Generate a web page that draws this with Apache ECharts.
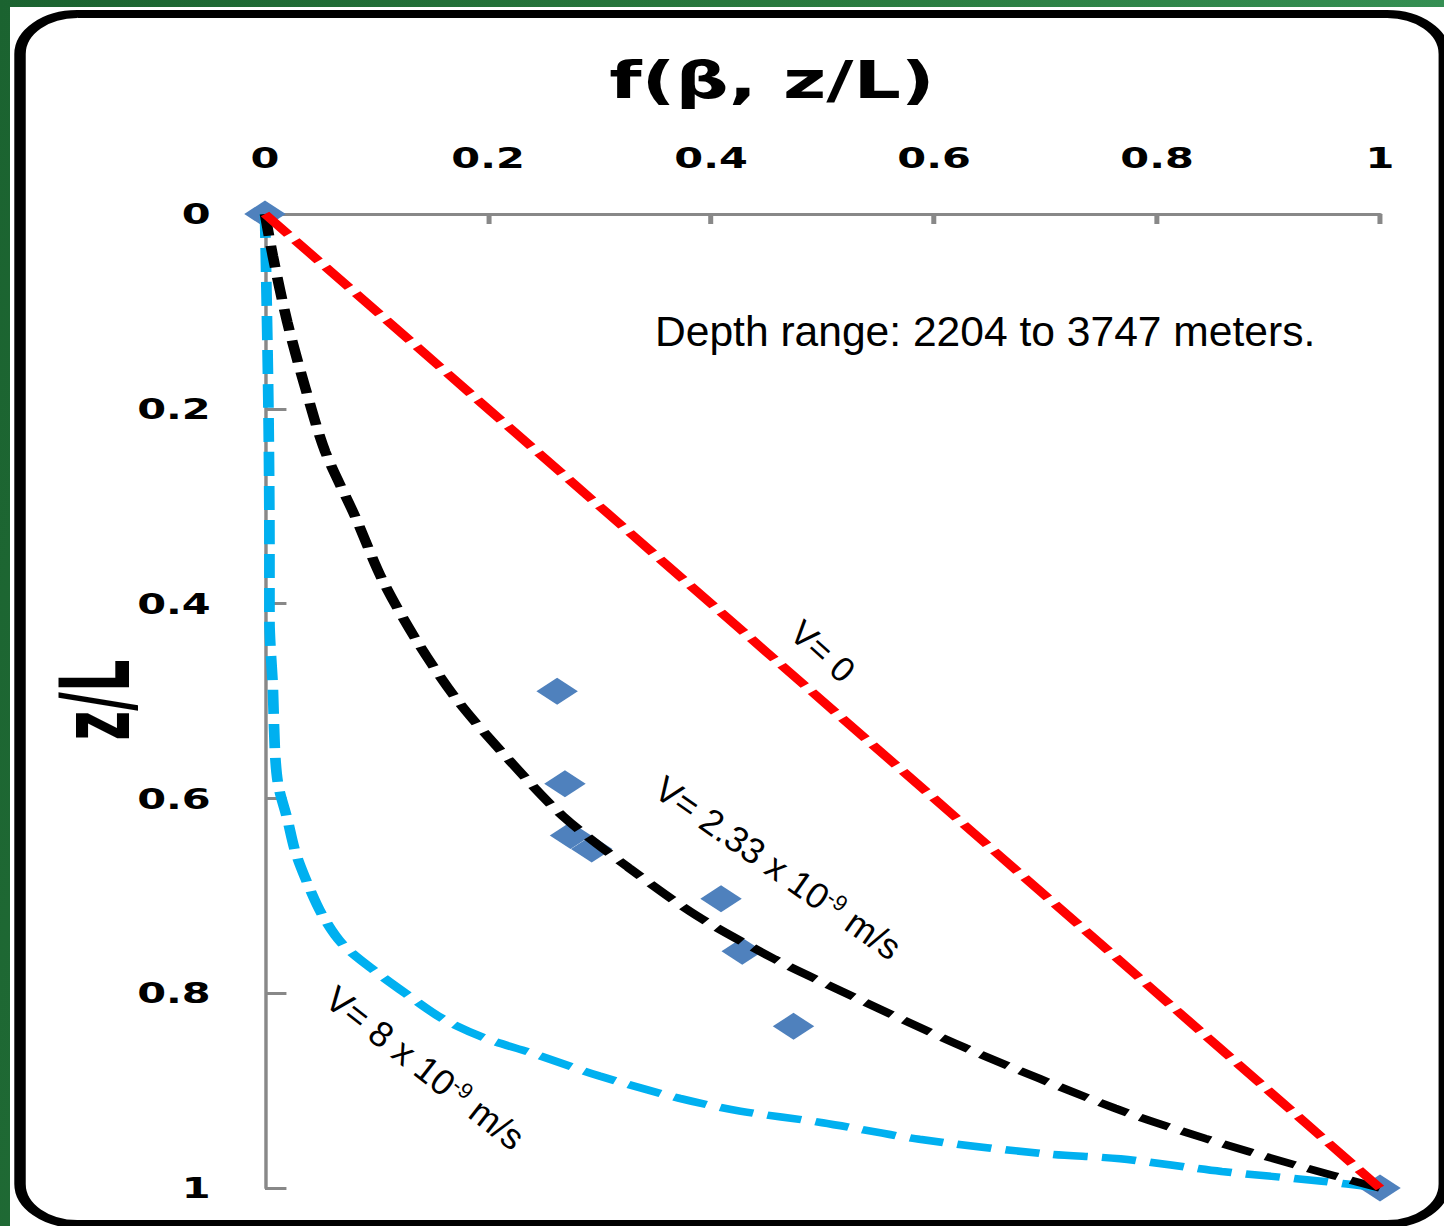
<!DOCTYPE html>
<html>
<head>
<meta charset="utf-8">
<script src="https://cdn.jsdelivr.net/npm/echarts@6/dist/echarts.min.js"></script>
<style>
html, body { margin: 0; padding: 0; width: 1444px; height: 1226px; overflow: hidden; }
body { position: relative; background: linear-gradient(100deg, #1b6330 0%, #2a7b3f 50%, #39965a 100%); }
#paper { position: absolute; left: 10px; top: 7px; right: 0; bottom: 0; background: #fff; }
#main { position: absolute; left: 0; top: 0; width: 1010px; height: 1226px; transform: scaleX(1.43); transform-origin: 0 0; }
</style>
</head>
<body>
<div id="paper"></div>
<div id="main"></div>
<script>
// the source picture is stretched sideways, so the chart is drawn narrow and widened
var S = 1.43;

// measured points, f(beta, z/L) against z/L
var obsF = [0, 0.262, 0.269, 0.274, 0.293, 0.409, 0.428, 0.474, 1];
var obsZ = [0, 0.490, 0.585, 0.638, 0.652, 0.703, 0.757, 0.834, 1];

// V = 0
var v0F = [0, 1];
var v0Z = [0, 1];

// V = 2.33e-9 m/s
var v233F = [0, 0.007, 0.020, 0.036, 0.054, 0.081, 0.105, 0.136, 0.173, 0.220, 0.267, 0.326, 0.388, 0.457, 0.493, 0.628, 0.762, 0.843, 0.926, 1];
var v233Z = [0, 0.043, 0.111, 0.178, 0.244, 0.311, 0.375, 0.438, 0.500, 0.562, 0.618, 0.671, 0.721, 0.765, 0.785, 0.856, 0.918, 0.949, 0.977, 1];

// V = 8e-9 m/s
var v8F = [0, 0.003, 0.004, 0.004, 0.007, 0.009, 0.012, 0.020, 0.027, 0.038, 0.051, 0.069, 0.096, 0.127, 0.159, 0.197, 0.238, 0.300, 0.372, 0.426, 0.500, 0.587, 0.700, 0.767, 0.858, 0.948, 1];
var v8Z = [0, 0.192, 0.346, 0.416, 0.485, 0.553, 0.587, 0.621, 0.654, 0.687, 0.719, 0.749, 0.775, 0.801, 0.826, 0.846, 0.861, 0.885, 0.908, 0.921, 0.933, 0.950, 0.965, 0.970, 0.983, 0.993, 1];

function pairs(a, b) {
    return a.map(function (v, i) { return [v, b[i]]; });
}

var chart = echarts.init(document.getElementById('main'), null, {renderer: 'svg'});

var tickFont = {fontFamily: 'DejaVu Sans', fontWeight: 'bold', fontSize: 29, color: '#000'};
var note = {fontFamily: 'Liberation Sans', fontSize: 36, color: '#000'};
var sup = {fontFamily: 'Liberation Sans', fontSize: 22, color: '#000', verticalAlign: 'top'};

option = {
    animation: false,
    grid: {left: 265 / S, right: 1010 - 1380 / S, top: 214, bottom: 38},
    xAxis: {
        type: 'value', position: 'top', min: 0, max: 1, interval: 0.2,
        axisLine: {show: true, onZero: false, lineStyle: {color: '#888', width: 3}},
        axisTick: {show: true, inside: true, length: 10, lineStyle: {color: '#888', width: 3.5}},
        axisLabel: Object.assign({margin: 42}, tickFont),
        splitLine: {show: false}
    },
    yAxis: {
        type: 'value', inverse: true, min: 0, max: 1, interval: 0.2,
        axisLine: {show: true, onZero: false, lineStyle: {color: '#888', width: 2.4}},
        axisTick: {show: true, inside: true, length: 15, lineStyle: {color: '#888', width: 3}},
        axisLabel: Object.assign({margin: 38}, tickFont),
        splitLine: {show: false}
    },
    series: [
        {
            name: 'data', type: 'scatter', data: pairs(obsF, obsZ),
            symbol: 'diamond', symbolSize: [29, 27],
            itemStyle: {color: '#4F81BD', opacity: 1}, z: 2
        },
        {
            name: 'V8', type: 'line', data: pairs(v8F, v8Z), showSymbol: false,
            smooth: 0.3, clip: false,
            lineStyle: {color: '#00B0F0', width: 7.5, type: [24, 10]}, z: 3
        },
        {
            name: 'V233', type: 'line', data: pairs(v233F, v233Z), showSymbol: false,
            smooth: 0.3, clip: false,
            lineStyle: {color: '#000', width: 7.5, type: [22, 10]}, z: 4
        },
        {
            name: 'V0', type: 'line', data: pairs(v0F, v0Z), showSymbol: false,
            clip: false,
            lineStyle: {color: '#FF0000', width: 7.5, type: [26, 8]}, z: 5
        }
    ],
    graphic: [
        {
            type: 'rect', shape: {x: 14, y: 14, width: 996, height: 1210, r: 40},
            style: {fill: 'none', stroke: '#000', lineWidth: 8}
        },
        {
            type: 'text', x: 772 / S, y: 80,
            style: {text: 'f(β, z/L)', font: 'bold 52px "DejaVu Sans"', fill: '#000', textAlign: 'center', textVerticalAlign: 'middle'}
        },
        {
            // texts laid over the picture afterwards, not stretched
            type: 'group', x: 0, y: 0, scaleX: 1 / S,
            children: [
                {
                    type: 'text', x: 96, y: 700, rotation: Math.PI / 2, scaleY: 1.88,
                    style: {text: 'z/L', font: 'bold 51px "DejaVu Sans"', fill: '#000', textAlign: 'center', textVerticalAlign: 'middle'}
                },
                {
                    type: 'text', x: 655, y: 331,
                    style: {text: 'Depth range: 2204 to 3747 meters.', font: '42.6px "Liberation Sans"', fill: '#000', textAlign: 'left', textVerticalAlign: 'middle'}
                },
                {
                    type: 'text', x: 823, y: 651, rotation: -42 * Math.PI / 180,
                    style: {text: 'V= 0', font: '35px "Liberation Sans"', fill: '#000', textAlign: 'center', textVerticalAlign: 'middle'}
                },
                {
                    type: 'text', x: 778, y: 868, rotation: -35 * Math.PI / 180,
                    style: {
                        text: '{a|V= 2.33 x 10}{b|-9}{a| m/s}', rich: {a: note, b: sup},
                        textAlign: 'center', textVerticalAlign: 'middle'
                    }
                },
                {
                    type: 'text', x: 425, y: 1068, rotation: -38 * Math.PI / 180,
                    style: {
                        text: '{a|V= 8 x 10}{b|-9}{a| m/s}', rich: {a: note, b: sup},
                        textAlign: 'center', textVerticalAlign: 'middle'
                    }
                }
            ]
        }
    ]
};

chart.setOption(option);
</script>
</body>
</html>
